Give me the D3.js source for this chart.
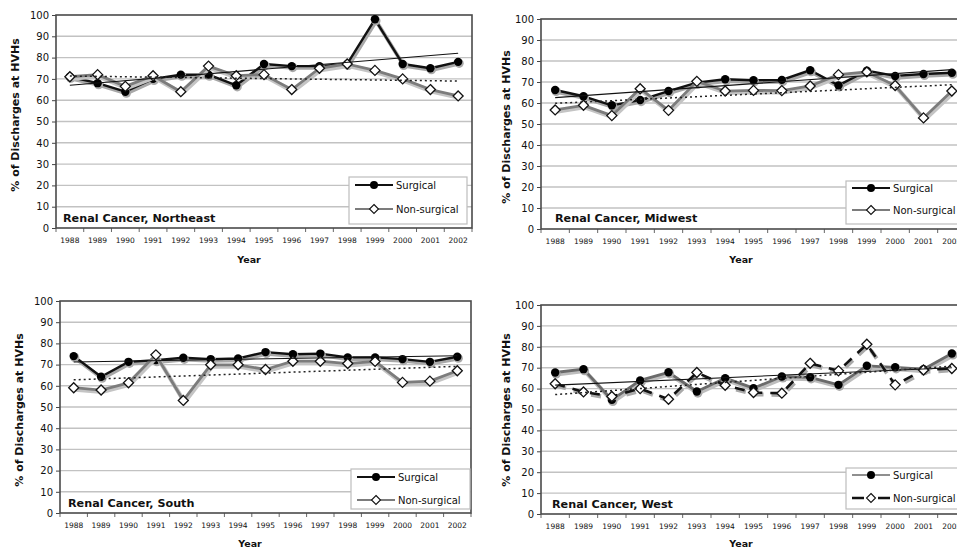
<!DOCTYPE html>
<html><head><meta charset="utf-8">
<script src="https://cdn.jsdelivr.net/npm/d3@7"></script>
<style>body{margin:0;background:#fff;overflow:hidden} svg{display:block;font-family:"DejaVu Sans",Verdana,sans-serif;}</style>
</head><body><svg id="c" width="957" height="548"></svg>
<script>
const years = ["1988","1989","1990","1991","1992","1993","1994","1995","1996","1997","1998","1999","2000","2001","2002"];
const yTicks = [0,10,20,30,40,50,60,70,80,90,100];
const seriesNames = ["Surgical","Non-surgical"];
const panelTitles = ["Renal Cancer, Northeast","Renal Cancer, Midwest","Renal Cancer, South","Renal Cancer, West"];
const yAxisTitle = "% of Discharges at HVHs";
const xAxisTitle = "Year";

const neSurgical    = [71,68,64,70,72,72,67,77,76,76,77,98,77,75,78];
const neNonSurgical = [71,72,66.5,71.5,64,76,71.5,72,65,75,77,74,70,65,62];
const mwSurgical    = [66.2,63.2,58.9,61.4,65.7,69.7,71.3,70.8,71,75.6,68.4,75.4,72.9,73.8,74.4];
const mwNonSurgical = [56.7,58.9,54,66.8,56.5,70.3,65.7,66,65.9,68.1,73.5,74.8,68.3,52.9,65.7];
const soSurgical    = [74,64.3,71.3,72.1,73.2,72.6,72.9,75.9,74.9,75.2,73.4,73.4,72.6,71.3,73.7];
const soNonSurgical = [59.1,58,61.4,74.6,53.1,69.9,69.9,67.7,71.6,71.6,70.5,71.5,61.6,62.2,67.1];
const weSurgical    = [67.7,69.3,54.6,63.9,67.8,58.6,65,60.2,65.8,65.4,61.8,70.9,70.2,69.3,76.8];
const weNonSurgical = [62.3,58.4,56.2,60,54.9,67.7,61.6,58.1,57.8,72.1,68.5,81.2,61.8,68.9,69.6];

const layouts = [
  {x0:56,x1:472,y0:15,y1:228,tX:15,tY:115,yearX:249,yearY:263,lg:{x:349,y:177,w:118,h:47,r1:8,r2:32},labX:63,labY:222,west:false},
  {x0:541,x1:966,y0:19,y1:229,tX:506,tY:127,yearX:741,yearY:263,lg:{x:846,y:181,w:130,h:43,r1:7,r2:29},labX:555,labY:222,west:false},
  {x0:60,x1:471,y0:301,y1:513,tX:19,tY:410,yearX:250,yearY:546.5,lg:{x:351,y:469,w:119,h:40,r1:8,r2:31},labX:68,labY:507,west:false},
  {x0:541,x1:966,y0:305,y1:514,tX:506,tY:410,yearX:741,yearY:546.5,lg:{x:846,y:468,w:130,h:41,r1:7,r2:30},labX:552,labY:508,west:true}
];
const panelData = [[neSurgical,neNonSurgical],[mwSurgical,mwNonSurgical],[soSurgical,soNonSurgical],[weSurgical,weNonSurgical]];

const svg = d3.select("#c");
const diamond = "M0,-5L5,0L0,5L-5,0Z";

function fit(vals){
  const n=vals.length, mx=(n-1)/2, my=d3.mean(vals);
  let sxy=0,sxx=0;
  vals.forEach((v,i)=>{sxy+=(i-mx)*(v-my);sxx+=(i-mx)*(i-mx);});
  const b=sxy/sxx; return i=>my+b*(i-mx);
}

function styles(west){
  return west ? {
    s:{stroke:"#6a6a6a",width:2.8,dash:null,shadow:"#bdbdbd"},
    n:{stroke:"#111",width:2.6,dash:"10,8",shadow:"#aaa"}
  } : {
    s:{stroke:"#111",width:2.4,dash:null,shadow:"#a8a8a8"},
    n:{stroke:"#7c7c7c",width:2.8,dash:null,shadow:"#c4c4c4"}
  };
}

layouts.forEach((L,pi)=>{
  const g = svg.append("g");
  const x = d3.scaleBand().domain(years).range([L.x0,L.x1]).padding(0);
  const y = d3.scaleLinear().domain([0,100]).range([L.y1,L.y0]);
  const cx = d=>x(d)+x.bandwidth()/2;
  const st = styles(L.west);

  g.selectAll(".grid").data(yTicks.filter(t=>t>0&&t<100)).join("line")
    .attr("x1",L.x0).attr("x2",L.x1).attr("y1",d=>y(d)).attr("y2",d=>y(d))
    .attr("stroke","#c2c2c2").attr("stroke-width",1.4);

  const ya = g.append("g").attr("transform",`translate(${L.x0},0)`)
    .call(d3.axisLeft(y).tickValues(yTicks).tickSize(4).tickPadding(3));
  ya.select(".domain").remove();
  ya.selectAll("line").attr("stroke","#444");
  ya.selectAll("text").attr("font-size",10).attr("fill","#111").attr("font-family","DejaVu Sans");

  const xa = g.append("g").attr("transform",`translate(0,${L.y1})`)
    .call(d3.axisBottom(x).tickSize(0).tickPadding(10));
  xa.select(".domain").remove();
  xa.selectAll("text").attr("font-size",7.5).attr("fill","#111").attr("font-family","DejaVu Sans");
  g.selectAll(".xt").data(d3.range(years.length+1)).join("line")
    .attr("x1",i=>L.x0+i*x.bandwidth()).attr("x2",i=>L.x0+i*x.bandwidth())
    .attr("y1",L.y1).attr("y2",L.y1+4).attr("stroke","#666").attr("stroke-width",1);

  g.append("rect").attr("x",L.x0).attr("y",L.y0).attr("width",L.x1-L.x0).attr("height",L.y1-L.y0)
    .attr("fill","none").attr("stroke","#4a4a4a").attr("stroke-width",1.6);

  const data = panelData[pi];
  const line = d3.line().x((d,i)=>cx(years[i])).y(d=>y(d));

  function drawSeries(vals, s, kind){
    g.append("path").datum(vals).attr("d",line).attr("fill","none")
      .attr("stroke",s.shadow).attr("stroke-width",s.width+1.5).attr("stroke-dasharray",s.dash)
      .attr("transform","translate(1.2,1.8)");
    g.append("path").datum(vals).attr("d",line).attr("fill","none")
      .attr("stroke",s.stroke).attr("stroke-width",s.width).attr("stroke-dasharray",s.dash)
      .attr("stroke-linejoin","round");
    if(kind==="s"){
      g.selectAll(null).data(vals).join("circle").attr("cx",(d,i)=>cx(years[i])+1).attr("cy",d=>y(d)+1.5)
        .attr("r",4.6).attr("fill","#aaa");
      g.selectAll(null).data(vals).join("circle").attr("cx",(d,i)=>cx(years[i])).attr("cy",d=>y(d))
        .attr("r",4.2).attr("fill","#000");
    } else {
      g.selectAll(null).data(vals).join("path").attr("d",diamond)
        .attr("transform",(d,i)=>`translate(${cx(years[i])},${y(d)})`)
        .attr("fill","#fff").attr("stroke","#111").attr("stroke-width",1.3);
    }
  }
  drawSeries(data[0], st.s, "s");
  drawSeries(data[1], st.n, "n");

  const f0 = fit(data[0]), f1 = fit(data[1]);
  const last = years.length-1;
  g.append("line").attr("x1",cx(years[0])).attr("x2",cx(years[last]))
    .attr("y1",y(f0(0))).attr("y2",y(f0(last))).attr("stroke","#111").attr("stroke-width",1.1);
  g.append("line").attr("x1",cx(years[0])).attr("x2",cx(years[last]))
    .attr("y1",y(f1(0))).attr("y2",y(f1(last))).attr("stroke","#222").attr("stroke-width",1.5)
    .attr("stroke-dasharray","2,3");

  g.append("text").attr("x",L.labX).attr("y",L.labY).text(panelTitles[pi])
    .attr("font-size",11.2).attr("font-weight","bold").attr("fill","#111");

  const lg = L.lg;
  g.append("rect").attr("x",lg.x).attr("y",lg.y).attr("width",lg.w).attr("height",lg.h)
    .attr("fill","#fff").attr("stroke","#bdbdbd").attr("stroke-width",1.2);
  [lg.r1,lg.r2].forEach((ry,k)=>{
    const s = k===0 ? st.s : st.n;
    const yy = lg.y+ry;
    g.append("line").attr("x1",lg.x+6).attr("x2",lg.x+44).attr("y1",yy).attr("y2",yy)
      .attr("stroke", s.stroke).attr("stroke-width", L.west ? (k===0?1.6:2.6) : 2)
      .attr("stroke-dasharray", L.west && k===1 ? "12,14" : null);
    if(k===0) g.append("circle").attr("cx",lg.x+25).attr("cy",yy).attr("r",4).attr("fill","#000");
    else g.append("path").attr("d",diamond).attr("transform",`translate(${lg.x+25},${yy}) scale(0.9)`)
      .attr("fill","#fff").attr("stroke","#111").attr("stroke-width",1.2);
    g.append("text").attr("x",lg.x+47).attr("y",yy+3.5).text(seriesNames[k])
      .attr("font-size",10).attr("fill","#111");
  });

  g.append("text").attr("transform",`translate(${L.tX},${L.tY}) rotate(-90)`).attr("text-anchor","middle")
    .attr("dy","0.35em").text(yAxisTitle).attr("font-size",11).attr("font-weight","bold").attr("fill","#111");
  g.append("text").attr("x",L.yearX).attr("y",L.yearY).attr("text-anchor","middle").text(xAxisTitle)
    .attr("font-size",9.5).attr("font-weight","bold").attr("fill","#111");
});
</script></body></html>
